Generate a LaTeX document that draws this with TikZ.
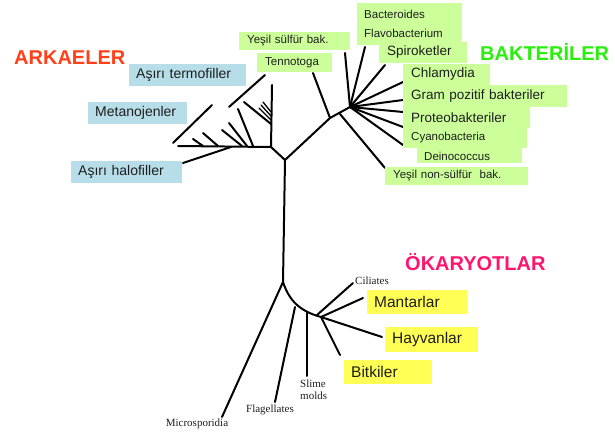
\documentclass[tikz,border=0pt]{standalone}
\usepackage{fontspec}
\setmainfont{Liberation Serif}
\setsansfont{Liberation Sans}
\definecolor{lblue}{RGB}{183,221,232}
\definecolor{lgreen}{RGB}{204,255,153}
\definecolor{lyellow}{RGB}{255,255,85}
\definecolor{arkred}{RGB}{255,64,24}
\definecolor{bakgreen}{RGB}{40,240,10}
\definecolor{okpink}{RGB}{255,20,110}
\definecolor{txt}{RGB}{30,30,30}
\tikzset{
  br/.style={line width=2pt, line cap=round, line join=round, black},
  thin br/.style={line width=1.3pt, line cap=round, black},
  box/.style={anchor=west, inner xsep=7pt, inner ysep=0pt, align=left, text=txt, font=\sffamily},
  bbox/.style={box, fill=lblue, font=\sffamily\fontsize{14}{16}\selectfont},
  gbig/.style={box, fill=lgreen, font=\sffamily\fontsize{13.5}{16}\selectfont},
  gsmall/.style={box, fill=lgreen, font=\sffamily\fontsize{11.5}{19}\selectfont},
  ybox/.style={box, fill=lyellow, font=\sffamily\fontsize{15.5}{18}\selectfont},
  title/.style={anchor=west, inner sep=0pt, font=\sffamily\bfseries\fontsize{20}{22}\selectfont},
  tlab/.style={inner sep=0pt, text=txt, font=\rmfamily\fontsize{11}{12}\selectfont}
}
\begin{document}
\begin{tikzpicture}[x=1pt,y=-1pt]
\useasboundingbox (0,0) rectangle (615,435);

% ---------- titles
\node[title, text=arkred] (ark) at (14,58) {ARKAELER};
\node[title, text=bakgreen] (bak) at (480,52) {BAKTERİLER};
\node[title, text=okpink] (oka) at (405,262) {ÖKARYOTLAR};

% ---------- main trunk
\coordinate (T) at (285,160);
\coordinate (Bt) at (283,282);
\coordinate (A) at (271,147);
\coordinate (Bj) at (330,118);
\draw[br] (T) -- (Bt);
\draw[br] (A) -- (T) -- (Bj);

% ---------- archaea
\coordinate (Atop) at (272,85);
\coordinate (Aleft) at (178,146);
\draw[br] (A) -- (Atop);
\draw[br] (A) -- (Aleft);
\coordinate (m1) at (173,143); \coordinate (m2) at (212,105);
\draw[br] (m1) -- (m2);
\coordinate (h1) at (183,163); \coordinate (h2) at (231,147);
\draw[br] (h1) -- (h2);
\coordinate (s1a) at (193,139); \coordinate (s1b) at (203,146);
\coordinate (s2a) at (203,133); \coordinate (s2b) at (218,146);
\coordinate (s3a) at (222,130); \coordinate (s3b) at (242,146);
\coordinate (s4a) at (229,123); \coordinate (s4b) at (247,146);
\coordinate (s5a) at (238,109); \coordinate (s5b) at (253,146);
\coordinate (s6a) at (244,102); \coordinate (s6b) at (271,124);
\draw[br] (s1a) -- (s1b);
\draw[br] (s2a) -- (s2b);
\draw[br] (s3a) -- (s3b);
\draw[br] (s4a) -- (s4b);
\draw[br] (s5a) -- (s5b);
\draw[br] (s6a) -- (s6b);
\coordinate (k1a) at (261,105); \coordinate (k1b) at (271,116);
\coordinate (k2a) at (259,108); \coordinate (k2b) at (271,120);
\coordinate (k3a) at (263,102); \coordinate (k3b) at (271,112);
\draw[thin br] (k1a) -- (k1b);
\draw[thin br] (k2a) -- (k2b);
\draw[thin br] (k3a) -- (k3b);
\coordinate (t1) at (229,107); \coordinate (t2) at (265,75);
\draw[br] (t1) -- (t2);

% ---------- bacteria
\coordinate (Ten) at (313,73);
\coordinate (H) at (350,107);
\draw[br] (Bj) -- (Ten);
\draw[br] (Bj) -- (H);
\coordinate (f1) at (345,53);
\coordinate (f2) at (365,47);
\coordinate (f3) at (385,65);
\coordinate (f4) at (403,82);
\coordinate (f5) at (403,100);
\coordinate (f6) at (403,112);
\coordinate (f7) at (403,127);
\coordinate (f8) at (403,145);
\foreach \f in {f1,f2,f3,f4,f5,f6,f7,f8} \draw[br] (H) -- (\f);
\coordinate (y1) at (340,114); \coordinate (y2) at (385,168);
\draw[br] (y1) -- (y2);

% ---------- eukaryotes
\coordinate (Mic) at (222,417);
\coordinate (e1) at (295,307);
\coordinate (e2) at (307,313);
\coordinate (e3) at (317,315);
\coordinate (e4) at (321,317);
\draw[br] (Bt) -- (Mic);
\draw[br] (Bt) .. controls (289,300) and (299,311) .. (e4);
\coordinate (Fl) at (275,402);
\coordinate (Sl) at (307,376);
\coordinate (Ci) at (353,283);
\coordinate (Ma) at (363,298);
\coordinate (Ha) at (382,337);
\coordinate (Bi) at (340,355);
\draw[br] (e1) -- (Fl);
\draw[br] (e2) -- (Sl);
\draw[br] (e3) -- (Ci);
\draw[br] (e4) -- (Ma);
\draw[br] (e4) -- (Ha);
\draw[br] (e4) -- (Bi);

% ---------- archaea boxes
\node[bbox, minimum height=22pt, text width=103pt] (termo) at (129,75) {Aşırı termofiller};
\node[bbox, minimum height=22pt, text width=85pt] (metano) at (88,113) {Metanojenler};
\node[bbox, minimum height=22pt, text width=97pt] (halo) at (71,172) {Aşırı halofiller};

% ---------- bacteria boxes
\node[gsmall, minimum height=18pt, text width=95pt, inner xsep=8pt] (ysul) at (239,41) {Yeşil sülfür bak.};
\node[gsmall, minimum height=19pt, text width=59pt, inner xsep=8pt] (tenno) at (257,62.5) {Tennotoga};
\node[gsmall, minimum height=42pt, text width=91pt] (bacfl) at (357,24) {Bacteroides\\Flavobacterium};
\node[gbig, minimum height=21pt, text width=72pt, inner xsep=8pt] (spiro) at (379,52.5) {Spiroketler};
\node[gbig, minimum height=21pt, text width=71pt, inner xsep=8pt] (chlam) at (403,74.5) {Chlamydia};
\node[gbig, minimum height=22pt, text width=148pt, inner xsep=8pt] (gram) at (403,96) {Gram pozitif bakteriler};
\node[gbig, minimum height=21pt, text width=111pt, inner xsep=8pt] (proteo) at (403,117.5) {Proteobakteriler};
\node[gsmall, minimum height=20pt, text width=108pt, inner xsep=8pt] (cyano) at (403,138) {Cyanobacteria};
\node[gsmall, minimum height=15pt, text width=91pt] (deino) at (417,156) {Deinococcus};
\node[gsmall, minimum height=18pt, text width=127pt, inner xsep=8pt] (ynon) at (385,176) {Yeşil non-sülfür\ \ bak.};

% ---------- eukaryote boxes
\node[ybox, minimum height=24pt, text width=86pt] (mant) at (367,302) {Mantarlar};
\node[ybox, minimum height=25pt, text width=79pt] (hayv) at (385,339.5) {Hayvanlar};
\node[ybox, minimum height=24pt, text width=74pt] (bitk) at (344,372) {Bitkiler};

% ---------- eukaryote text labels
\node[tlab] (micro) at (197,424) {Microsporidia};
\node[tlab] (flag) at (270,410) {Flagellates};
\node[tlab, anchor=north west, align=left] (slime) at (300,380) {Slime\\molds};
\node[tlab, anchor=west] (cil) at (355,281) {Ciliates};
\end{tikzpicture}
\end{document}
